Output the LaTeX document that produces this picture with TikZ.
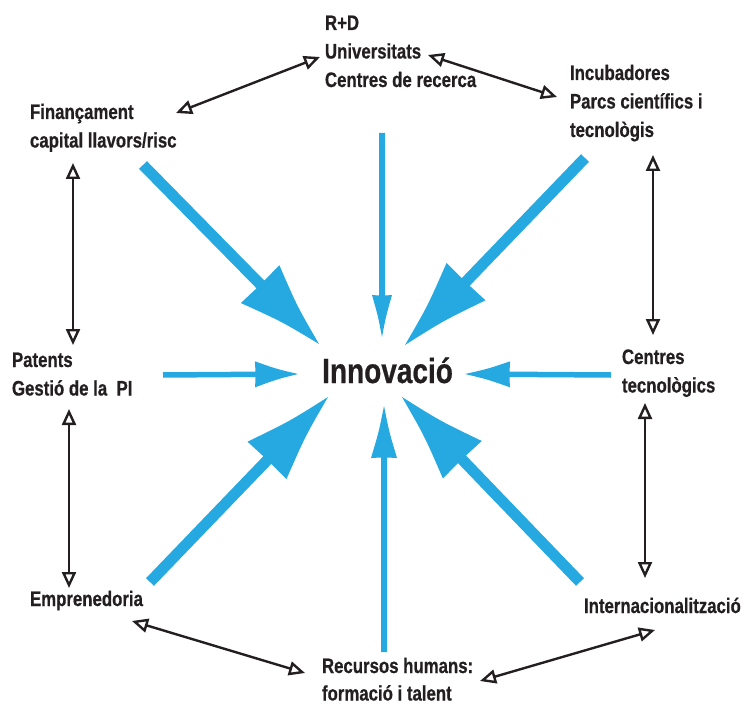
\documentclass[tikz,border=0pt]{standalone}
\usepackage{fontspec}
\setmainfont{Liberation Sans}[FakeStretch=0.8, BoldFeatures={FakeBold=0.6}]
\usetikzlibrary{arrows.meta,calc}
\definecolor{myblue}{RGB}{38,169,224}
\definecolor{txt}{RGB}{35,31,32}
\tikzset{
  lbl/.style={anchor=base west, inner sep=0pt, outer sep=0pt,
    font=\fontsize{21}{28.5}\selectfont\bfseries, text=txt},
  link/.style={draw=txt, line width=2.4pt,
    {Triangle[open,length=16pt,width=14pt]}-{Triangle[open,length=16pt,width=14pt]}}
}
\newcommand\lbltab[1]{\begin{tabular}[t]{@{}l@{}}#1\end{tabular}}
\newcommand\bluearrow[5]{%
  \path let \p1=(#1), \p2=(#2) in \pgfextra{%
    \pgfmathsetmacro\tmpang{atan2(\y2-\y1,\x2-\x1)}%
    \pgfmathsetmacro\tmplen{veclen(\x2-\x1,\y2-\y1)}%
    \global\let\baang\tmpang \global\let\balen\tmplen};
  \begin{scope}[shift={(#1)}, rotate=\baang, x=1pt, y=1pt]
    \pgfmathsetmacro\bab{\balen-#4}%
    \pgfmathsetmacro\bac{\bab+0.5*#4}%
    \fill[myblue] (0,-#3/2) -- (\bab+0.5,-#3/2) -- (\bab,-#5)
      .. controls (\bac,-0.4*#5) .. (\balen,0)
      .. controls (\bac,0.4*#5) .. (\bab,#5) -- (\bab+0.5,#3/2) -- (0,#3/2) -- cycle;
  \end{scope}}
\begin{document}
\begin{tikzpicture}[x=1pt,y=-1pt]
\useasboundingbox (0,0) rectangle (750,706);
% labels
\node[lbl] (rd) at (325,30) {\lbltab{R+D\\Universitats\\Centres de recerca}};
\node[lbl] (fin) at (30,119) {\lbltab{Finançament\\capital llavors/risc}};
\node[lbl] (inc) at (570,80) {\lbltab{Incubadores\\Parcs científics i\\tecnològis}};
\node[lbl] (pat) at (12,367) {\lbltab{Patents\\Gestió de la\ \ PI}};
\node[lbl] (cen) at (622,364) {\lbltab{Centres\\tecnològics}};
\node[lbl] (emp) at (30,606) {\lbltab{Emprenedoria}};
\node[lbl] (int) at (584,613) {\lbltab{Internacionalització}};
\node[lbl] (rec) at (322,673) {\lbltab{Recursos humans:\\[-1pt]formació i talent}};
\node[anchor=base west, inner sep=0pt, font=\fontsize{35}{40}\selectfont\bfseries, text=txt] (inn) at (322,383) {Innovació};
% connector end points
\coordinate (fin-a) at (176,113); \coordinate (rd-a) at (320,57);
\coordinate (rd-b) at (428,55);   \coordinate (inc-a) at (557,97);
\coordinate (fin-b) at (73,163);  \coordinate (pat-a) at (73,345);
\coordinate (pat-b) at (69,409);  \coordinate (emp-a) at (69,588);
\coordinate (inc-b) at (653,155); \coordinate (cen-a) at (653,335);
\coordinate (cen-b) at (645,403); \coordinate (int-a) at (645,578);
\coordinate (emp-b) at (132,621); \coordinate (rec-a) at (305,673);
\coordinate (rec-b) at (480,681); \coordinate (int-b) at (655,630);
\draw[link] (fin-a) -- (rd-a);
\draw[link] (rd-b) -- (inc-a);
\draw[link] (fin-b) -- (pat-a);
\draw[link] (pat-b) -- (emp-a);
\draw[link] (inc-b) -- (cen-a);
\draw[link] (cen-b) -- (int-a);
\draw[link] (emp-b) -- (rec-a);
\draw[link] (rec-b) -- (int-b);
% blue arrows
\coordinate (fin-s) at (143,165); \coordinate (fin-t) at (319,344);
\coordinate (inc-s) at (585,158); \coordinate (inc-t) at (405,345);
\coordinate (emp-s) at (150,582); \coordinate (emp-t) at (328,397);
\coordinate (int-s) at (580,582); \coordinate (int-t) at (402,397);
\coordinate (rd-s) at (382,133);  \coordinate (rd-t) at (382,337);
\coordinate (pat-s) at (163,375); \coordinate (pat-t) at (298,374);
\coordinate (cen-s) at (611,375); \coordinate (cen-t) at (465,374);
\coordinate (rec-s) at (384,652); \coordinate (rec-t) at (384,406);
\bluearrow{fin-s}{fin-t}{11}{84}{27}
\bluearrow{inc-s}{inc-t}{11}{88}{27}
\bluearrow{emp-s}{emp-t}{11}{88}{27}
\bluearrow{int-s}{int-t}{11}{87}{27}
\bluearrow{rd-s}{rd-t}{6}{42}{10}
\bluearrow{pat-s}{pat-t}{5.5}{43}{13}
\bluearrow{cen-s}{cen-t}{5.5}{45}{13}
\bluearrow{rec-s}{rec-t}{6}{52}{13}
\end{tikzpicture}
\end{document}
